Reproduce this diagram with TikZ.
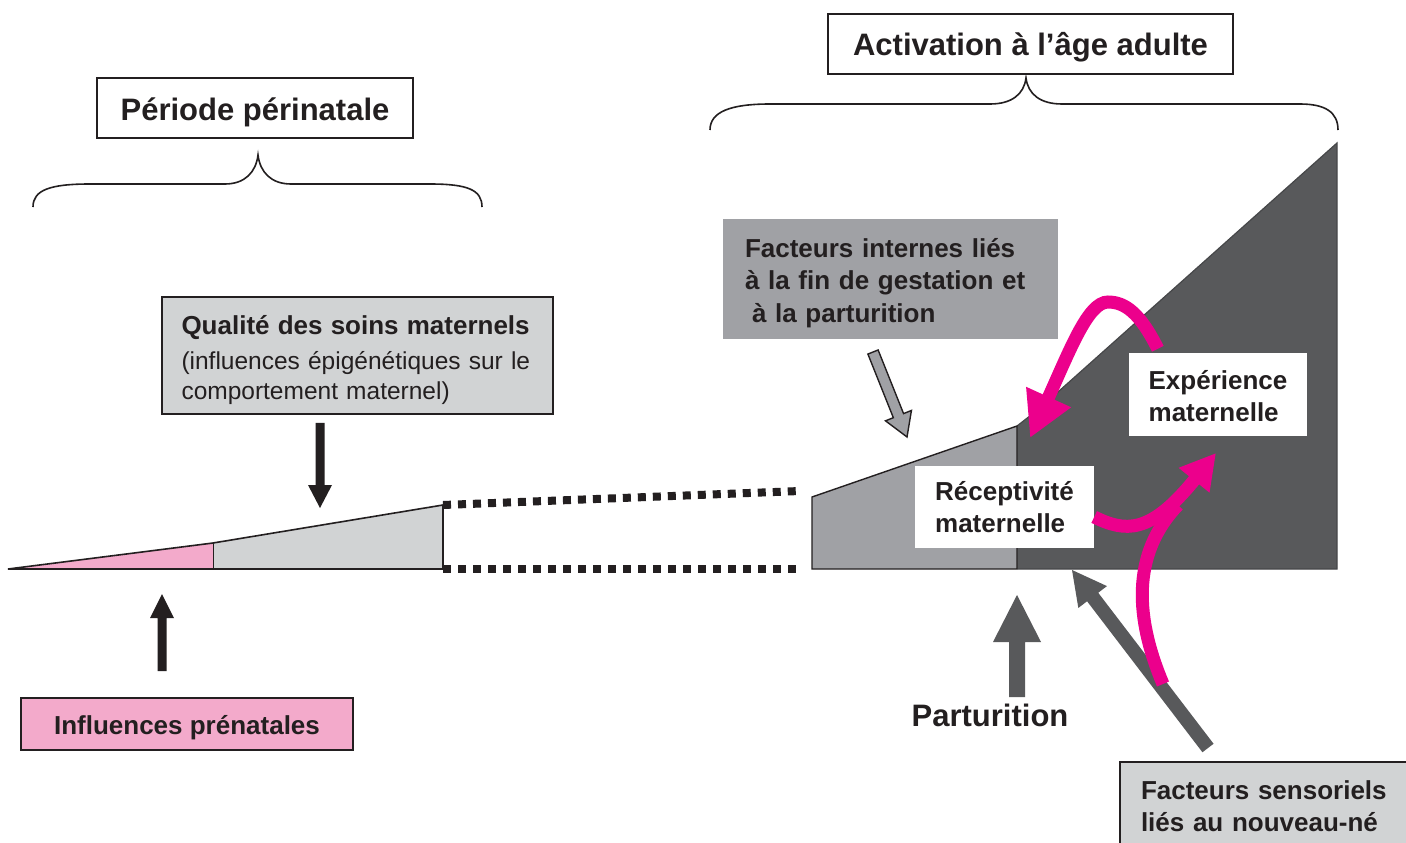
\documentclass[tikz,border=0pt]{standalone}
\usepackage{fontspec}
\setmainfont{Liberation Sans}
\usetikzlibrary{arrows.meta,calc}
\definecolor{txt}{HTML}{231F20}
\definecolor{lgray}{HTML}{D1D3D4}
\definecolor{mgray}{HTML}{A0A1A5}
\definecolor{dgray}{HTML}{58595B}
\definecolor{pinkf}{HTML}{F3AACB}
\definecolor{mag}{HTML}{EC008C}
% #1 name, #2 style, #3 start, #4 tip, #5 half shaft, #6 half head, #7 head length
\newcommand\fatarrow[7]{%
  \coordinate (#1h) at ($(#4)!#7!(#3)$);
  \path[#2] ($(#3)!#5!90:(#4)$) -- ($(#1h)!#5!90:(#4)$) -- ($(#1h)!#6!90:(#4)$) -- (#4)
    -- ($(#1h)!#6!-90:(#4)$) -- ($(#1h)!#5!-90:(#4)$) -- ($(#3)!#5!-90:(#4)$) -- cycle;
}
\begin{document}
\begin{tikzpicture}[x=1pt,y=-1pt,
  frame/.style={draw=txt, line width=1.6pt, inner sep=0pt},
  titletext/.style={text=txt, inner sep=0pt, font=\fontsize{31}{36}\selectfont\bfseries},
  bodybox/.style={text=txt, inner sep=0pt, align=left,
    font=\fontsize{26}{32}\selectfont\bfseries},
  brace/.style={draw=txt, line width=1.6pt},
  outline/.style={draw=txt, line width=1.6pt, line join=miter},
  dotline/.style={draw=txt, line width=8pt, dash pattern=on 8pt off 7pt},
  pinkline/.style={draw=mag, line width=13pt},
]
\useasboundingbox (0,0) rectangle (1406,843);
\fill[white] (0,0) rectangle (1406,843);
\clip (0,0) rectangle (1406,843);

% ---------- title boxes and braces
\node[frame, fill=white, minimum width=316pt, minimum height=60pt] (peri) at (255,108) {};
\node[titletext] (peritxt) at ($(peri.center)+(0,4)$) {Période périnatale};
\node[frame, fill=white, minimum width=405pt, minimum height=60pt] (adult) at (1030.5,44) {};
\node[titletext] (adulttxt) at ($(adult.center)+(0,3)$) {Activation à l’âge adulte};

\draw[brace] (33,207) .. controls (33,190) and (50,184) .. (90,184) -- (225,184)
  .. controls (245,184) and (256,172) .. (258,155)
  .. controls (260,172) and (271,184) .. (291,184) -- (430,184)
  .. controls (468,184) and (482,190) .. (482,207);
\draw[brace] (710,130) .. controls (710,112) and (730,104) .. (770,104) -- (990,104)
  .. controls (1012,104) and (1024,94) .. (1026,78)
  .. controls (1028,94) and (1040,104) .. (1062,104) -- (1300,104)
  .. controls (1325,104) and (1338,112) .. (1338,130);

% ---------- left wedge
\fill[pinkf] (12,569) -- (213,543) -- (213,569) -- cycle;
\fill[lgray] (213,543) -- (443,505) -- (443,569) -- (213,569) -- cycle;
\draw[txt, line width=1pt] (213,543) -- (213,569);
\draw[outline] (8,569) -- (213,543) -- (443,505) -- (443,569) -- cycle;

% dotted links
\draw[dotline] (443,505) -- (800,491);
\draw[dotline] (443,569) -- (800,569);

% ---------- right shapes
\fill[dgray] (1017,569) -- (1017,426) -- (1040,408) -- (1337,143) -- (1337,569) -- cycle;
\draw[dgray!80!black, line width=1.2pt] (1017,426) -- (1040,408) -- (1337,143) -- (1337,569) -- (1017,569);
\fill[mgray] (812,569) -- (812,497) -- (1017,426) -- (1017,569) -- cycle;
\draw[txt, line width=1.4pt] (1017,569) -- (812,569) -- (812,497) -- (1017,426) -- (1017,569);

% ---------- boxes
\node[frame, fill=lgray, minimum width=391pt, minimum height=117pt] (qual) at (357.5,355.5) {};
\node[bodybox, text width=352pt, font=\fontsize{24.5}{30}\selectfont] (qualtxt) at ($(qual.center)+(0,5)$)
  {{\fontsize{26}{30}\selectfont\bfseries Qualité des soins maternels}\\[5pt]
   (influences épigénétiques sur le\\comportement maternel)};

\node[fill=mgray, inner sep=0pt, minimum width=335pt, minimum height=120pt] (intern) at (890.5,279) {};
\node[bodybox, text width=291pt, font=\fontsize{26}{32.5}\selectfont\bfseries] (interntxt) at ($(intern.center)+(0,4)$)
  {Facteurs internes liés\\à la fin de gestation et\\\hspace*{7pt}à la parturition};

\node[bodybox, fill=white, minimum width=179pt, minimum height=82pt] (recep) at (1004.5,507)
  {Réceptivité\\maternelle};
\node[fill=white, inner sep=0pt, minimum width=178pt, minimum height=83pt] (exper) at (1218,394.5) {};
\node[bodybox] (expertxt) at ($(exper.center)+(0,2)$) {Expérience\\maternelle};

\node[frame, fill=pinkf, minimum width=332pt, minimum height=52pt] (prenat) at (187,724) {};
\node[bodybox] (prenattxt) at ($(prenat.center)+(0,4)$) {Influences prénatales};

\node[bodybox, fill=lgray, draw=txt, line width=1.6pt, minimum width=290pt, minimum height=88pt,
  text width=248pt, inner xsep=21pt] (sens) at (1265,806)
  {Facteurs sensoriels\\liés au nouveau-né};

\node[text=txt, inner sep=0pt, font=\fontsize{31}{36}\selectfont\bfseries] (partu) at (990,715) {Parturition};

% ---------- straight fat arrows
\coordinate (qa) at ($(qual.south)+(-37.5,8)$);  \coordinate (qb) at (320,508);
\fatarrow{qarr}{fill=txt}{qa}{qb}{4.5pt}{12pt}{23pt}
\coordinate (pa) at ($(prenat.north)+(-25,-26)$);  \coordinate (pb) at (162,594);
\fatarrow{parr}{fill=txt}{pa}{pb}{4.5pt}{12pt}{24pt}
\coordinate (ia) at (873,352);  \coordinate (ib) at (907,437);
\fatarrow{iarr}{fill=mgray, draw=txt, line width=1.4pt, line join=miter}{ia}{ib}{5.5pt}{14pt}{23pt}
\coordinate (ua) at (1017,697); \coordinate (ub) at (1017,595);
\fatarrow{uarr}{fill=dgray}{ua}{ub}{8pt}{24pt}{47pt}
\coordinate (sa) at (1208,748); \coordinate (sb) at (1072,570);
\fatarrow{sarr}{fill=dgray}{sa}{sb}{7pt}{18pt}{34pt}

% ---------- pink curved arrows
\coordinate (m1) at (1030,438);
\draw[pinkline, -{Triangle[length=45pt,width=46pt]}] ($(exper.north west)+(29,-4)$)
  .. controls (1140,313) and (1125,302) .. (1108,302)
  .. controls (1088,302) and (1070,350) .. (m1);
\coordinate (m2) at (1216,453);
\draw[pinkline, -{Triangle[length=35pt,width=37pt]}] ($(recep.east)+(0,10)$)
  .. controls (1125,532) and (1150,535) .. (m2);
\coordinate (m3) at (1163,684);
\coordinate (m4) at (1178,505);
\draw[pinkline] (m3) .. controls (1136,620) and (1130,555) .. (m4);
\end{tikzpicture}
\end{document}
